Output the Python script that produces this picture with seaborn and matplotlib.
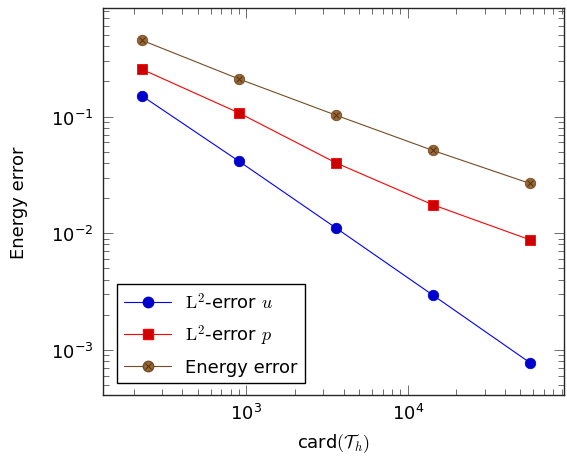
import matplotlib
matplotlib.use("Agg")
import matplotlib.pyplot as plt
import seaborn as sns
from matplotlib.lines import Line2D
from matplotlib.font_manager import FontProperties

# mesh sizes and errors
cells = [224, 896, 3584, 14336, 57344]
err_u = [0.151, 0.0415, 0.0111, 0.00294, 0.000774]
err_p = [0.255, 0.1076, 0.0401, 0.0175, 0.00877]
err_energy = [0.452, 0.2104, 0.1028, 0.0512, 0.0267]
labels = [r"$\mathrm{L}^2$-error $u$", r"$\mathrm{L}^2$-error $p$", "Energy error"]

sns.set_style("ticks")
plt.rcParams['font.family'] = ['DejaVu Sans']
plt.rcParams['mathtext.fontset'] = 'dejavusans'
plt.rcParams['axes.linewidth'] = 1.0
plt.rcParams['text.color'] = 'black'
plt.rcParams['axes.labelcolor'] = 'black'

fig = plt.figure(figsize=(5.67, 4.64), dpi=100)
ax = fig.add_axes([0.1817, 0.1466, 0.8130, 0.834])

# series
sns.lineplot(x=cells, y=err_u, ax=ax, color='#0000ff', lw=0.8,
             marker='o', ms=7.5, mfc='#0000cc', mec='#0000cc', mew=0.6)
sns.lineplot(x=cells, y=err_p, ax=ax, color='#ff0000', lw=0.8,
             marker='s', ms=7, mfc='#cc0000', mec='#ff0000', mew=0.6)
sns.lineplot(x=cells, y=err_energy, ax=ax, color='#734d26', lw=0.8,
             marker='o', ms=7.5, mfc='#996633', mec='#734d26', mew=0.6)
sns.scatterplot(x=cells, y=err_energy, ax=ax, marker='x', s=18,
                color='#4d3319', linewidth=0.7, zorder=5)

ax.set(xscale='log', yscale='log')
ax.set_xlim(129, 93100)
ax.set_ylim(4.1e-4, 0.853)

ax.tick_params(which='both', direction='in', top=True, right=True,
               color='#555555', width=0.6, labelsize=13, labelcolor='black')
ax.tick_params(which='major', length=7)
ax.tick_params(which='minor', length=4.3)
ax.tick_params(axis='x', pad=6)
ax.tick_params(axis='y', pad=7)

ax.set_xlabel(r"card$(\mathcal{T}_h)$", fontsize=13, math_fontfamily='cm', labelpad=6)
ax.set_ylabel("Energy error", fontsize=13, labelpad=16)

handles = [
    Line2D([], [], color='#0000ff', lw=0.8, marker='o', ms=7.5,
           mfc='#0000cc', mec='#0000cc'),
    Line2D([], [], color='#ff0000', lw=0.8, marker='s', ms=7,
           mfc='#cc0000', mec='#ff0000'),
    (Line2D([], [], color='#734d26', lw=0.8, marker='o', ms=7.5,
            mfc='#996633', mec='#734d26'),
     Line2D([], [], ls='none', marker='x', ms=4.5, color='#4d3319', mew=0.7)),
]
leg = ax.legend(handles, labels, loc='lower left', bbox_to_anchor=(0.03, 0.03),
                borderaxespad=0, fancybox=False, framealpha=1, edgecolor='black',
                handlelength=2.6, labelspacing=0.6,
                prop=FontProperties(family='DejaVu Sans', size=13, math_fontfamily='cm'))
leg.get_frame().set_linewidth(1.0)

fig.savefig("out.png", dpi=100)
